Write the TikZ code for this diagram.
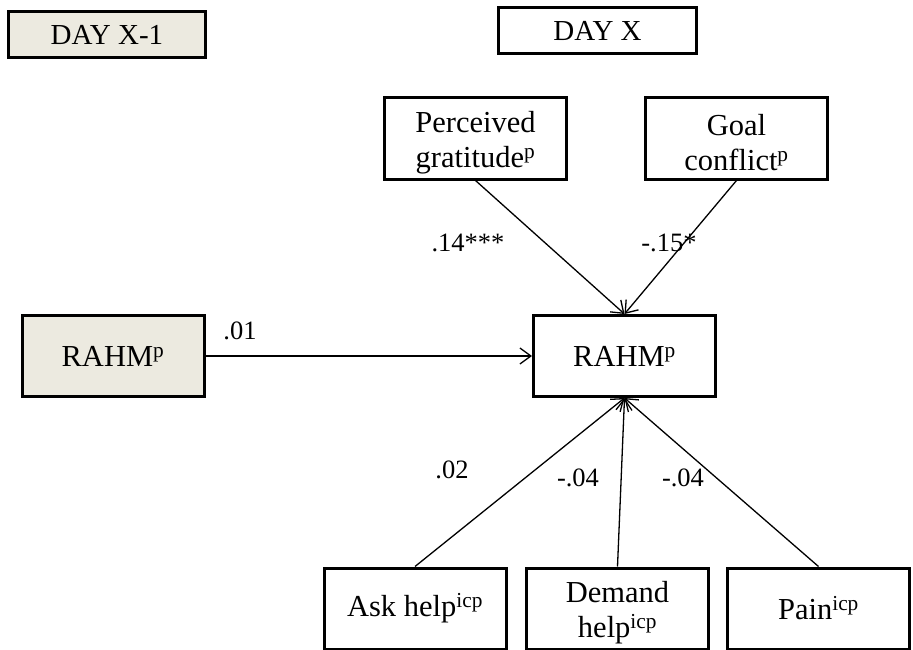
\documentclass[tikz,border=0pt]{standalone}
\usepackage{fontspec}
\setmainfont{Liberation Serif}
\usetikzlibrary{arrows.meta}
\definecolor{beige}{RGB}{236,234,224}
\newcommand{\toplift}{\rule{0pt}{30pt}}
\begin{document}
\begin{tikzpicture}[x=1pt,y=-1pt,
  box/.style={draw=black,line width=3pt,rectangle,inner sep=0pt,align=center,
    font=\fontsize{30.5}{35}\selectfont},
  daybox/.style={draw=black,line width=3pt,rectangle,inner sep=0pt,align=center,
    font=\fontsize{29}{33}\selectfont},
  shaded/.style={fill=beige},
  wide/.style={minimum width=182pt,minimum height=81pt},
  lab/.style={font=\fontsize{26.5}{30}\selectfont,inner sep=0pt},
  conn/.style={line width=1.3pt,-{Straight Barb[length=11pt,width=16pt,line width=1.3pt]}}]
\useasboundingbox (0,0) rectangle (913,650);
\node[daybox,shaded,minimum width=197pt,minimum height=46pt] (dprev) at (107,34.5) {DAY X-1};
\node[daybox,minimum width=198pt,minimum height=46pt] (dx) at (597.5,30.5) {DAY X};
\node[box,wide] (pg) at (475.5,138.5) {\toplift Perceived\\gratitude\textsuperscript{p}};
\node[box,wide] (gc) at (736.5,138.5) {\toplift Goal\\conflict\textsuperscript{p}};
\node[box,wide,shaded] (r1) at (113,356) {RAHM\textsuperscript{p}};
\node[box,wide] (r) at (624.5,356) {RAHM\textsuperscript{p}};
\node[box,wide] (ask) at (415,608.5) {Ask help\textsuperscript{icp}};
\node[box,wide] (dem) at (617.5,608.5) {\toplift Demand\\help\textsuperscript{icp}};
\node[box,wide] (pain) at (818.5,608.5) {Pain\textsuperscript{icp}};
\draw[conn] (pg.south) -- (r.north);
\draw[conn] (gc.south) -- (r.north);
\draw[conn] (r1.east) -- (r.west);
\draw[conn] (ask.north) -- (r.south);
\draw[conn] (dem.north) -- (r.south);
\draw[conn] (pain.north) -- (r.south);
\node[lab] (l1) at (468,243) {.14***};
\node[lab] (l2) at (669,243) {-.15*};
\node[lab] (l3) at (240,331) {.01};
\node[lab] (l4) at (452,470) {.02};
\node[lab] (l5) at (578,478) {-.04};
\node[lab] (l6) at (683,478) {-.04};
\end{tikzpicture}
\end{document}
